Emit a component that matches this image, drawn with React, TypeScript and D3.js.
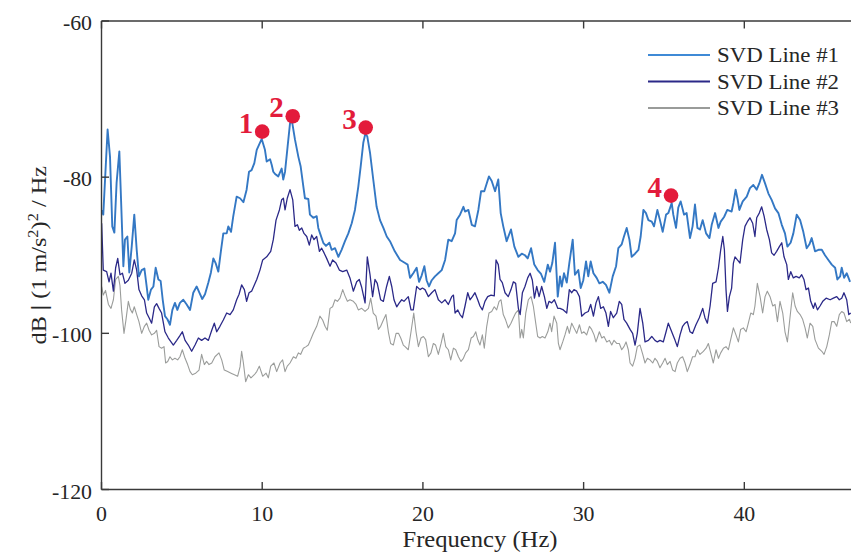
import React from 'react';
import * as d3 from 'd3';

type Pt = [number, number];

// [frequency (Hz), dB]
const svd1: Pt[] = [
  [0.01,-84.2],[0.11,-84.8],[0.38,-73.9],[0.53,-77.4],[0.67,-86.3],[0.8,-87.1],[0.94,-80.7],[1.11,-76.7],[1.21,-82.5],[1.36,-91.4],
  [1.46,-88.0],[1.61,-87.6],[1.73,-92.2],[1.88,-88.9],[2.04,-84.8],[2.19,-89.3],[2.33,-92.7],[2.5,-91.9],[2.67,-91.7],[2.81,-94.0],
  [2.91,-95.7],[3.08,-94.4],[3.23,-94.0],[3.37,-91.6],[3.54,-93.1],[3.68,-93.3],[3.81,-95.7],[3.95,-97.8],[4.1,-98.2],[4.26,-98.9],
  [4.41,-97.0],[4.57,-96.1],[4.72,-97.0],[4.88,-96.1],[5.09,-95.7],[5.3,-96.3],[5.51,-97.0],[5.71,-94.8],[5.92,-94.0],[6.09,-94.8],
  [6.27,-95.6],[6.44,-95.0],[6.65,-93.5],[6.81,-92.2],[6.96,-90.4],[7.1,-91.0],[7.27,-92.1],[7.44,-89.3],[7.58,-87.2],[7.79,-87.2],
  [7.89,-86.3],[8.06,-87.0],[8.2,-85.0],[8.41,-82.5],[8.62,-82.7],[8.83,-83.2],[9.03,-81.6],[9.18,-79.3],[9.34,-79.1],[9.51,-78.2],
  [9.66,-76.5],[9.97,-75.1],[10.17,-76.5],[10.28,-78.0],[10.49,-77.7],[10.59,-78.4],[10.69,-79.3],[10.8,-79.6],[11.0,-79.9],[11.21,-78.9],
  [11.31,-80.3],[11.42,-79.3],[11.58,-76.1],[11.73,-73.1],[11.85,-72.8],[12.04,-75.2],[12.25,-77.4],[12.39,-78.6],[12.56,-81.2],[12.66,-82.7],
  [12.87,-82.8],[12.97,-84.8],[13.18,-85.2],[13.39,-85.0],[13.49,-86.5],[13.6,-87.2],[13.8,-88.4],[13.97,-88.8],[14.18,-88.4],[14.32,-89.3],
  [14.53,-89.1],[14.74,-90.2],[14.94,-89.3],[15.15,-88.2],[15.36,-87.2],[15.57,-85.9],[15.77,-84.2],[15.98,-81.2],[16.13,-78.6],[16.29,-75.6],
  [16.42,-74.4],[16.54,-74.8],[16.71,-76.9],[16.91,-80.3],[17.12,-83.8],[17.33,-85.5],[17.54,-86.5],[17.75,-87.6],[17.95,-88.2],[18.25,-89.5],
  [18.58,-90.6],[18.89,-91.0],[19.05,-91.2],[19.2,-92.9],[19.4,-92.3],[19.61,-91.6],[19.76,-93.4],[19.92,-92.6],[20.09,-91.4],[20.23,-93.2],
  [20.38,-94.0],[20.55,-93.2],[20.75,-92.7],[20.96,-92.3],[21.17,-91.9],[21.38,-90.6],[21.58,-88.0],[21.79,-88.2],[22.0,-87.2],[22.1,-85.5],
  [22.31,-84.8],[22.52,-83.8],[22.62,-84.4],[22.83,-84.2],[23.04,-86.1],[23.24,-86.3],[23.45,-84.2],[23.62,-81.8],[23.82,-81.8],[23.97,-80.8],
  [24.11,-79.9],[24.28,-80.5],[24.49,-81.8],[24.69,-80.3],[24.84,-84.6],[25.0,-86.3],[25.21,-88.2],[25.48,-86.7],[25.69,-88.9],[25.94,-90.2],
  [26.15,-89.8],[26.35,-90.0],[26.52,-90.4],[26.73,-89.1],[26.93,-91.2],[27.14,-91.9],[27.35,-92.4],[27.55,-93.4],[27.77,-91.2],[27.91,-92.1],
  [28.05,-91.0],[28.22,-88.4],[28.39,-95.3],[28.53,-92.7],[28.64,-94.0],[28.78,-92.3],[28.95,-93.5],[29.11,-91.0],[29.32,-88.0],[29.46,-92.5],
  [29.67,-91.9],[29.82,-94.2],[29.98,-93.2],[30.15,-90.8],[30.29,-92.7],[30.44,-90.8],[30.61,-92.3],[30.81,-92.9],[30.98,-93.6],[31.19,-93.4],
  [31.39,-93.8],[31.6,-94.8],[31.81,-92.7],[32.02,-91.4],[32.16,-89.1],[32.37,-88.6],[32.51,-87.6],[32.68,-86.5],[32.85,-88.0],[32.99,-90.2],
  [33.2,-89.8],[33.41,-89.3],[33.55,-87.6],[33.72,-84.2],[33.88,-84.6],[34.03,-85.5],[34.24,-85.7],[34.38,-86.3],[34.59,-84.2],[34.75,-85.5],
  [34.92,-87.0],[35.13,-84.8],[35.27,-84.6],[35.48,-83.3],[35.58,-84.8],[35.75,-86.5],[35.89,-83.9],[36.04,-83.1],[36.25,-84.8],[36.41,-84.6],
  [36.62,-87.8],[36.78,-86.3],[36.93,-83.5],[37.08,-86.5],[37.24,-86.7],[37.41,-85.5],[37.62,-87.2],[37.83,-87.8],[37.97,-86.1],[38.18,-84.6],
  [38.39,-86.5],[38.53,-85.7],[38.74,-85.1],[38.94,-84.2],[39.21,-84.4],[39.32,-83.3],[39.46,-81.6],[39.59,-82.9],[39.69,-84.2],[39.9,-83.1],
  [40.15,-82.5],[40.35,-81.4],[40.56,-81.0],[40.77,-81.6],[40.93,-80.8],[41.1,-79.7],[41.29,-80.8],[41.5,-82.1],[41.7,-82.9],[41.91,-84.0],
  [42.12,-84.6],[42.33,-86.1],[42.53,-87.2],[42.68,-88.9],[42.88,-88.4],[43.05,-87.2],[43.26,-84.8],[43.47,-85.5],[43.67,-87.0],[43.88,-89.1],
  [44.05,-88.6],[44.19,-87.8],[44.4,-89.5],[44.61,-89.3],[44.82,-89.3],[45.02,-90.0],[45.23,-90.6],[45.44,-91.2],[45.65,-91.6],[45.79,-93.1],
  [45.96,-92.7],[46.06,-91.6],[46.21,-92.9],[46.37,-92.3],[46.58,-93.4],
];

const svd2: Pt[] = [
  [0.01,-85.9],[0.11,-91.9],[0.32,-92.1],[0.47,-93.4],[0.59,-92.3],[0.74,-94.6],[0.88,-91.6],[1.01,-90.4],[1.15,-92.5],[1.3,-92.3],
  [1.46,-93.6],[1.67,-93.2],[1.88,-92.3],[2.04,-90.6],[2.19,-91.9],[2.33,-94.4],[2.5,-95.2],[2.67,-95.7],[2.81,-97.4],[2.96,-98.0],
  [3.12,-98.7],[3.29,-96.6],[3.43,-96.2],[3.58,-96.8],[3.74,-97.4],[3.95,-99.8],[4.16,-100.6],[4.47,-101.5],[4.68,-100.9],[4.88,-100.3],
  [5.03,-99.8],[5.2,-100.9],[5.4,-101.5],[5.61,-102.3],[5.82,-101.5],[6.03,-100.6],[6.23,-100.9],[6.44,-100.6],[6.65,-100.9],[6.86,-99.6],
  [7.02,-98.7],[7.17,-99.8],[7.37,-99.1],[7.58,-98.3],[7.79,-97.4],[8.0,-97.6],[8.2,-97.0],[8.41,-95.7],[8.56,-95.0],[8.72,-93.8],
  [8.89,-94.4],[9.03,-95.9],[9.18,-94.8],[9.34,-94.6],[9.51,-93.8],[9.66,-93.1],[9.86,-91.9],[10.03,-90.6],[10.28,-90.2],[10.53,-89.5],
  [10.69,-88.0],[10.86,-85.5],[11.07,-84.2],[11.21,-82.9],[11.32,-82.7],[11.42,-84.2],[11.56,-82.7],[11.73,-81.6],[11.9,-82.9],[12.04,-86.3],
  [12.19,-86.1],[12.31,-86.8],[12.46,-86.5],[12.6,-87.2],[12.77,-87.6],[12.93,-88.7],[13.08,-87.4],[13.22,-88.0],[13.39,-87.6],[13.56,-89.5],
  [13.7,-89.1],[13.85,-89.7],[14.01,-90.4],[14.22,-91.4],[14.38,-90.6],[14.59,-91.0],[14.8,-91.9],[15.01,-92.1],[15.26,-91.9],[15.46,-92.9],
  [15.67,-94.6],[15.88,-93.4],[16.04,-93.1],[16.19,-94.1],[16.4,-96.1],[16.54,-90.2],[16.71,-92.5],[16.87,-95.3],[17.02,-93.1],[17.16,-93.6],
  [17.37,-95.7],[17.54,-95.9],[17.74,-94.0],[17.91,-92.7],[18.06,-94.0],[18.2,-95.7],[18.37,-96.6],[18.53,-96.1],[18.68,-95.7],[18.82,-95.9],
  [19.09,-95.3],[19.26,-97.0],[19.4,-97.0],[19.61,-94.0],[19.82,-94.4],[19.97,-94.2],[20.13,-94.4],[20.34,-95.3],[20.55,-94.8],[20.75,-94.4],
  [20.96,-95.7],[21.17,-96.1],[21.38,-95.7],[21.58,-96.3],[21.79,-95.3],[21.9,-95.1],[22.0,-97.4],[22.17,-97.0],[22.31,-97.6],[22.46,-98.0],
  [22.62,-96.5],[22.79,-94.8],[22.93,-95.7],[23.08,-95.3],[23.24,-94.8],[23.41,-95.7],[23.55,-96.5],[23.7,-97.0],[23.86,-95.9],[24.03,-95.3],
  [24.24,-95.1],[24.44,-95.2],[24.55,-90.6],[24.69,-91.2],[24.8,-93.1],[24.94,-93.5],[25.11,-94.8],[25.31,-95.3],[25.48,-94.4],[25.63,-93.4],
  [25.77,-93.6],[25.94,-96.8],[26.05,-97.6],[26.19,-94.8],[26.35,-94.0],[26.52,-92.9],[26.67,-92.3],[26.81,-93.2],[26.94,-95.5],[27.08,-94.0],
  [27.23,-95.3],[27.39,-94.0],[27.56,-95.3],[27.71,-96.8],[27.85,-95.9],[28.01,-96.1],[28.18,-95.7],[28.39,-96.8],[28.53,-96.8],[28.74,-97.0],
  [28.95,-97.4],[29.11,-94.4],[29.26,-94.8],[29.4,-94.4],[29.57,-94.6],[29.74,-95.3],[29.88,-97.8],[30.09,-97.4],[30.29,-97.2],[30.44,-96.3],
  [30.61,-97.8],[30.77,-96.1],[30.92,-95.3],[31.06,-96.8],[31.23,-96.6],[31.39,-97.4],[31.54,-99.1],[31.68,-97.2],[31.85,-98.0],[32.06,-97.4],
  [32.22,-95.9],[32.37,-96.3],[32.51,-98.2],[32.68,-98.7],[32.89,-99.5],[33.05,-100.0],[33.2,-101.5],[33.34,-100.0],[33.51,-96.8],[33.68,-98.7],
  [33.82,-101.1],[34.03,-100.9],[34.24,-100.4],[34.44,-100.9],[34.59,-101.1],[34.75,-100.9],[34.96,-101.1],[35.13,-99.8],[35.27,-98.7],[35.48,-99.8],
  [35.69,-100.9],[35.83,-101.7],[36.0,-100.2],[36.16,-99.1],[36.31,-98.7],[36.45,-98.5],[36.62,-99.8],[36.78,-100.0],[36.99,-98.9],[37.2,-98.0],
  [37.41,-96.8],[37.55,-98.0],[37.7,-98.7],[37.87,-96.5],[38.03,-93.6],[38.24,-93.4],[38.39,-91.6],[38.53,-89.3],[38.66,-87.6],[38.76,-89.3],
  [38.86,-94.4],[38.95,-97.2],[39.07,-95.3],[39.21,-94.2],[39.32,-91.0],[39.42,-90.2],[39.57,-90.6],[39.73,-91.0],[39.9,-88.0],[40.04,-86.3],
  [40.19,-85.7],[40.35,-85.2],[40.52,-85.9],[40.66,-87.6],[40.77,-85.2],[40.93,-84.6],[41.08,-83.8],[41.23,-85.0],[41.39,-86.7],[41.56,-88.0],
  [41.7,-89.7],[41.85,-90.0],[42.01,-89.5],[42.18,-88.9],[42.33,-88.4],[42.47,-90.2],[42.64,-91.2],[42.74,-93.1],[42.89,-92.1],[43.05,-92.9],
  [43.22,-92.7],[43.42,-92.9],[43.57,-92.5],[43.71,-93.1],[43.84,-94.4],[43.99,-94.2],[44.13,-95.9],[44.3,-96.8],[44.4,-96.1],[44.55,-97.0],
  [44.71,-96.5],[44.88,-95.9],[45.09,-95.5],[45.34,-95.7],[45.54,-95.5],[45.75,-95.3],[45.91,-95.7],[46.06,-95.5],[46.2,-94.8],[46.37,-95.7],
  [46.5,-97.6],[46.62,-97.4],
];

const svd3: Pt[] = [
  [0.01,-94.0],[0.11,-95.1],[0.25,-94.5],[0.43,-96.3],[0.59,-96.8],[0.74,-95.7],[0.88,-93.1],[1.05,-92.7],[1.15,-93.9],[1.25,-97.0],
  [1.4,-100.0],[1.52,-98.3],[1.67,-95.9],[1.79,-96.9],[1.92,-97.4],[2.04,-96.6],[2.19,-97.6],[2.33,-98.5],[2.5,-100.0],[2.67,-99.1],
  [2.81,-98.7],[2.96,-99.6],[3.12,-100.2],[3.29,-100.0],[3.43,-99.6],[3.58,-101.7],[3.74,-101.9],[3.89,-101.7],[3.99,-103.8],[4.12,-103.6],
  [4.26,-103.0],[4.41,-103.4],[4.57,-103.2],[4.74,-103.4],[4.88,-103.0],[5.03,-102.1],[5.2,-103.2],[5.36,-104.0],[5.51,-104.9],[5.65,-105.3],
  [5.86,-105.1],[6.07,-104.7],[6.23,-102.7],[6.4,-104.0],[6.54,-103.6],[6.69,-104.0],[6.86,-103.8],[7.06,-103.0],[7.31,-102.5],[7.48,-103.4],
  [7.64,-104.7],[7.85,-104.9],[8.06,-105.1],[8.27,-105.3],[8.47,-105.5],[8.62,-104.3],[8.72,-102.3],[8.83,-103.8],[8.97,-106.2],[9.14,-105.3],
  [9.3,-105.7],[9.51,-105.3],[9.66,-104.9],[9.82,-104.2],[10.03,-105.5],[10.24,-105.1],[10.38,-105.7],[10.53,-104.2],[10.73,-103.8],[10.9,-104.9],
  [11.11,-103.8],[11.27,-103.4],[11.42,-104.9],[11.56,-104.2],[11.73,-103.8],[11.94,-103.0],[12.1,-103.2],[12.25,-102.5],[12.39,-102.7],[12.56,-101.9],
  [12.73,-101.7],[12.87,-101.5],[13.02,-100.8],[13.18,-100.0],[13.39,-99.1],[13.59,-97.8],[13.76,-98.3],[13.91,-99.1],[14.05,-99.6],[14.22,-96.8],
  [14.38,-96.6],[14.53,-95.7],[14.68,-95.9],[14.84,-95.5],[15.01,-94.4],[15.15,-95.2],[15.3,-95.9],[15.46,-95.7],[15.67,-95.9],[15.84,-96.3],
  [15.98,-97.0],[16.19,-96.8],[16.4,-97.2],[16.61,-96.8],[16.75,-95.5],[16.91,-97.4],[17.08,-97.8],[17.23,-99.5],[17.37,-99.1],[17.54,-98.3],
  [17.7,-97.6],[17.85,-99.8],[17.99,-101.3],[18.16,-101.5],[18.33,-100.0],[18.48,-100.0],[18.62,-100.6],[18.78,-101.5],[18.89,-101.7],[19.09,-102.1],
  [19.26,-99.8],[19.43,-97.4],[19.57,-99.8],[19.72,-101.7],[19.88,-100.6],[20.03,-100.4],[20.17,-100.8],[20.34,-103.0],[20.5,-102.5],[20.65,-101.3],
  [20.79,-101.5],[20.96,-102.7],[21.13,-101.3],[21.27,-100.0],[21.42,-101.7],[21.58,-102.1],[21.73,-103.4],[21.9,-101.9],[22.04,-102.1],[22.21,-103.0],
  [22.37,-103.6],[22.52,-103.2],[22.66,-102.5],[22.83,-102.1],[23.0,-100.6],[23.14,-100.4],[23.29,-99.8],[23.41,-100.8],[23.55,-101.5],[23.7,-100.2],
  [23.82,-101.9],[23.97,-99.1],[24.11,-97.4],[24.28,-97.2],[24.44,-96.6],[24.59,-97.0],[24.74,-95.9],[24.86,-95.7],[25.0,-97.6],[25.15,-98.3],
  [25.31,-99.3],[25.48,-98.7],[25.63,-98.0],[25.77,-97.4],[25.94,-97.0],[26.05,-100.6],[26.15,-99.5],[26.25,-100.6],[26.4,-97.4],[26.56,-95.7],
  [26.73,-95.3],[26.87,-96.5],[27.02,-98.7],[27.14,-100.4],[27.29,-100.6],[27.43,-100.4],[27.6,-100.6],[27.77,-99.8],[27.91,-98.7],[28.01,-99.8],
  [28.16,-97.8],[28.33,-98.7],[28.43,-101.3],[28.53,-102.1],[28.7,-101.1],[28.84,-100.2],[28.99,-99.1],[29.11,-100.0],[29.26,-98.7],[29.4,-99.3],
  [29.57,-100.0],[29.74,-98.9],[29.88,-100.0],[30.02,-99.8],[30.19,-100.2],[30.36,-99.1],[30.5,-99.5],[30.65,-100.2],[30.77,-101.1],[30.98,-99.8],
  [31.13,-100.6],[31.27,-100.4],[31.44,-101.1],[31.6,-100.9],[31.75,-101.5],[31.89,-100.9],[32.06,-101.3],[32.22,-101.3],[32.37,-102.1],[32.51,-101.7],
  [32.64,-101.1],[32.78,-102.1],[32.89,-103.8],[33.05,-104.2],[33.2,-103.2],[33.34,-101.7],[33.51,-101.5],[33.68,-102.7],[33.82,-103.8],[33.97,-103.2],
  [34.13,-103.4],[34.3,-103.8],[34.44,-103.2],[34.59,-103.6],[34.75,-104.4],[34.92,-103.8],[35.07,-103.2],[35.21,-104.0],[35.38,-103.6],[35.54,-104.7],
  [35.69,-104.9],[35.83,-103.8],[36.0,-103.2],[36.16,-103.0],[36.31,-103.8],[36.45,-104.9],[36.62,-104.0],[36.78,-103.0],[36.93,-103.0],[37.08,-102.1],
  [37.24,-102.7],[37.45,-102.3],[37.62,-101.9],[37.76,-101.3],[37.91,-102.5],[38.07,-103.8],[38.24,-102.1],[38.39,-103.2],[38.53,-102.5],[38.7,-101.9],
  [38.86,-101.7],[39.01,-102.1],[39.15,-100.8],[39.32,-99.3],[39.48,-100.2],[39.63,-101.1],[39.77,-99.5],[39.94,-99.3],[40.11,-99.8],[40.25,-98.7],
  [40.4,-97.4],[40.56,-97.6],[40.66,-96.5],[40.81,-93.6],[40.98,-95.3],[41.14,-97.4],[41.29,-95.3],[41.43,-94.6],[41.6,-95.3],[41.77,-96.5],
  [41.91,-96.3],[42.06,-98.5],[42.22,-95.9],[42.39,-97.4],[42.53,-99.8],[42.68,-101.1],[42.84,-98.0],[43.01,-94.8],[43.16,-96.5],[43.3,-97.2],
  [43.47,-97.6],[43.63,-98.2],[43.78,-99.3],[43.92,-100.6],[44.09,-98.7],[44.26,-99.1],[44.4,-100.8],[44.61,-101.9],[44.82,-102.3],[44.96,-102.7],
  [45.13,-101.7],[45.29,-100.2],[45.44,-98.5],[45.59,-98.5],[45.75,-99.1],[45.91,-97.6],[46.06,-97.2],[46.2,-97.4],[46.37,-98.5],[46.54,-98.2],
  [46.62,-98.7],
];

const peakFreq = [10.0, 11.9, 16.44, 35.44];
const peakDb = [-74.17, -72.2, -73.65, -82.36];
const peakLabels = ['1', '2', '3', '4'];

const xTicks = [0, 10, 20, 30, 40];
const yTicks = [-120, -100, -80, -60];
const legendLabels = ['SVD Line #1', 'SVD Line #2', 'SVD Line #3'];
const seriesColors = ['#3478c4', '#2b2988', '#9b9d9b'];
const legendColors = ['#3f8ad6', '#2b2988', '#999b99'];
const seriesWidths = [1.9, 1.3, 1.1];

const SERIF = '"Liberation Serif", "Times New Roman", Tinos, Times, "DejaVu Serif", serif';

export default function App() {
  const W = 851, H = 554;
  const xMax = 46.7;
  const x = d3.scaleLinear().domain([0, xMax]).range([101.5, 852]);
  const y = d3.scaleLinear().domain([-120, -60]).range([489.5, 21]);
  const line = d3.line<Pt>().x(d => x(d[0])).y(d => y(d[1]));
  const series = [svd1, svd2, svd3];
  const axisColor = '#3a3a3a';
  const textColor = '#262626';
  const red = '#e31b3b';
  const x0 = x(0), x1 = x(xMax), yTop = y(-60), yBot = y(-120);
  const tickLen = 7.5;
  const ts = { fontFamily: SERIF };
  const stretch = 1.09;
  const tickStretch = 1.04;

  return (
    <svg width={W} height={H} style={{ position: 'absolute', left: 0, top: 0, fontFamily: SERIF }}>
      <rect x={0} y={0} width={W} height={H} fill="#ffffff" />
      <defs>
        <clipPath id="plotArea">
          <rect x={x0} y={yTop} width={x1 - x0} height={yBot - yTop} />
        </clipPath>
      </defs>
      <g clipPath="url(#plotArea)" fill="none" strokeLinejoin="round">
        {[2, 1, 0].map(i => (
          <path key={i} d={line(series[i]) || ''} stroke={seriesColors[i]} strokeWidth={seriesWidths[i]} />
        ))}
      </g>

      <g stroke={axisColor} strokeWidth={1.4} fill="none">
        <line x1={x0} y1={yBot} x2={x1} y2={yBot} />
        <line x1={x0} y1={yTop} x2={x1} y2={yTop} />
        <line x1={x0} y1={yTop} x2={x0} y2={yBot} />
        {xTicks.map(t => (
          <g key={'xt' + t}>
            <line x1={x(t)} y1={yBot} x2={x(t)} y2={yBot - tickLen} />
            <line x1={x(t)} y1={yTop} x2={x(t)} y2={yTop + tickLen} />
          </g>
        ))}
        {yTicks.map(t => (
          <line key={'yt' + t} x1={x0} y1={y(t)} x2={x0 + tickLen} y2={y(t)} />
        ))}
      </g>

      {xTicks.map(t => (
        <text key={'xl' + t} style={ts} transform={`translate(${x(t)},521) scale(${tickStretch},1)`} textAnchor="middle" fontSize={21} fill={textColor}>{t}</text>
      ))}
      {yTicks.map(t => (
        <text key={'yl' + t} style={ts} transform={`translate(92,${y(t) + 9}) scale(${tickStretch},1)`} textAnchor="end" fontSize={21} fill={textColor}>{t}</text>
      ))}

      <text style={ts} transform={`translate(480,547) scale(1.07,1)`} textAnchor="middle" fontSize={23} fill={textColor}>Frequency (Hz)</text>
      <text style={ts} transform={`translate(46,${(yTop + yBot) / 2}) rotate(-90) scale(1.1,1)`} textAnchor="middle" fontSize={22} fill={textColor}>
        <tspan>dB </tspan>
        <tspan fontWeight="bold">|</tspan>
        <tspan> (1 m/s</tspan>
        <tspan dy={-8} fontSize={15}>2</tspan>
        <tspan dy={8}>)</tspan>
        <tspan dy={-8} fontSize={15}>2</tspan>
        <tspan dy={8}> / Hz</tspan>
      </text>

      {peakFreq.map((f, i) => (
        <g key={'pk' + i}>
          <circle cx={x(f)} cy={y(peakDb[i])} r={7.3} fill={red} />
          <text style={ts} x={x(f) - 9} y={y(peakDb[i]) + 1} textAnchor="end" fontSize={29} fontWeight="bold" fill={red}>{peakLabels[i]}</text>
        </g>
      ))}

      {legendLabels.map((lab, i) => {
        const ly = 55 + i * 26.5;
        return (
          <g key={'lg' + i}>
            <line x1={648} y1={ly} x2={710} y2={ly} stroke={legendColors[i]} strokeWidth={2} />
            <text style={ts} transform={`translate(717,${ly + 7}) scale(${stretch},1)`} fontSize={21} fill={textColor}>{lab}</text>
          </g>
        );
      })}
    </svg>
  );
}
